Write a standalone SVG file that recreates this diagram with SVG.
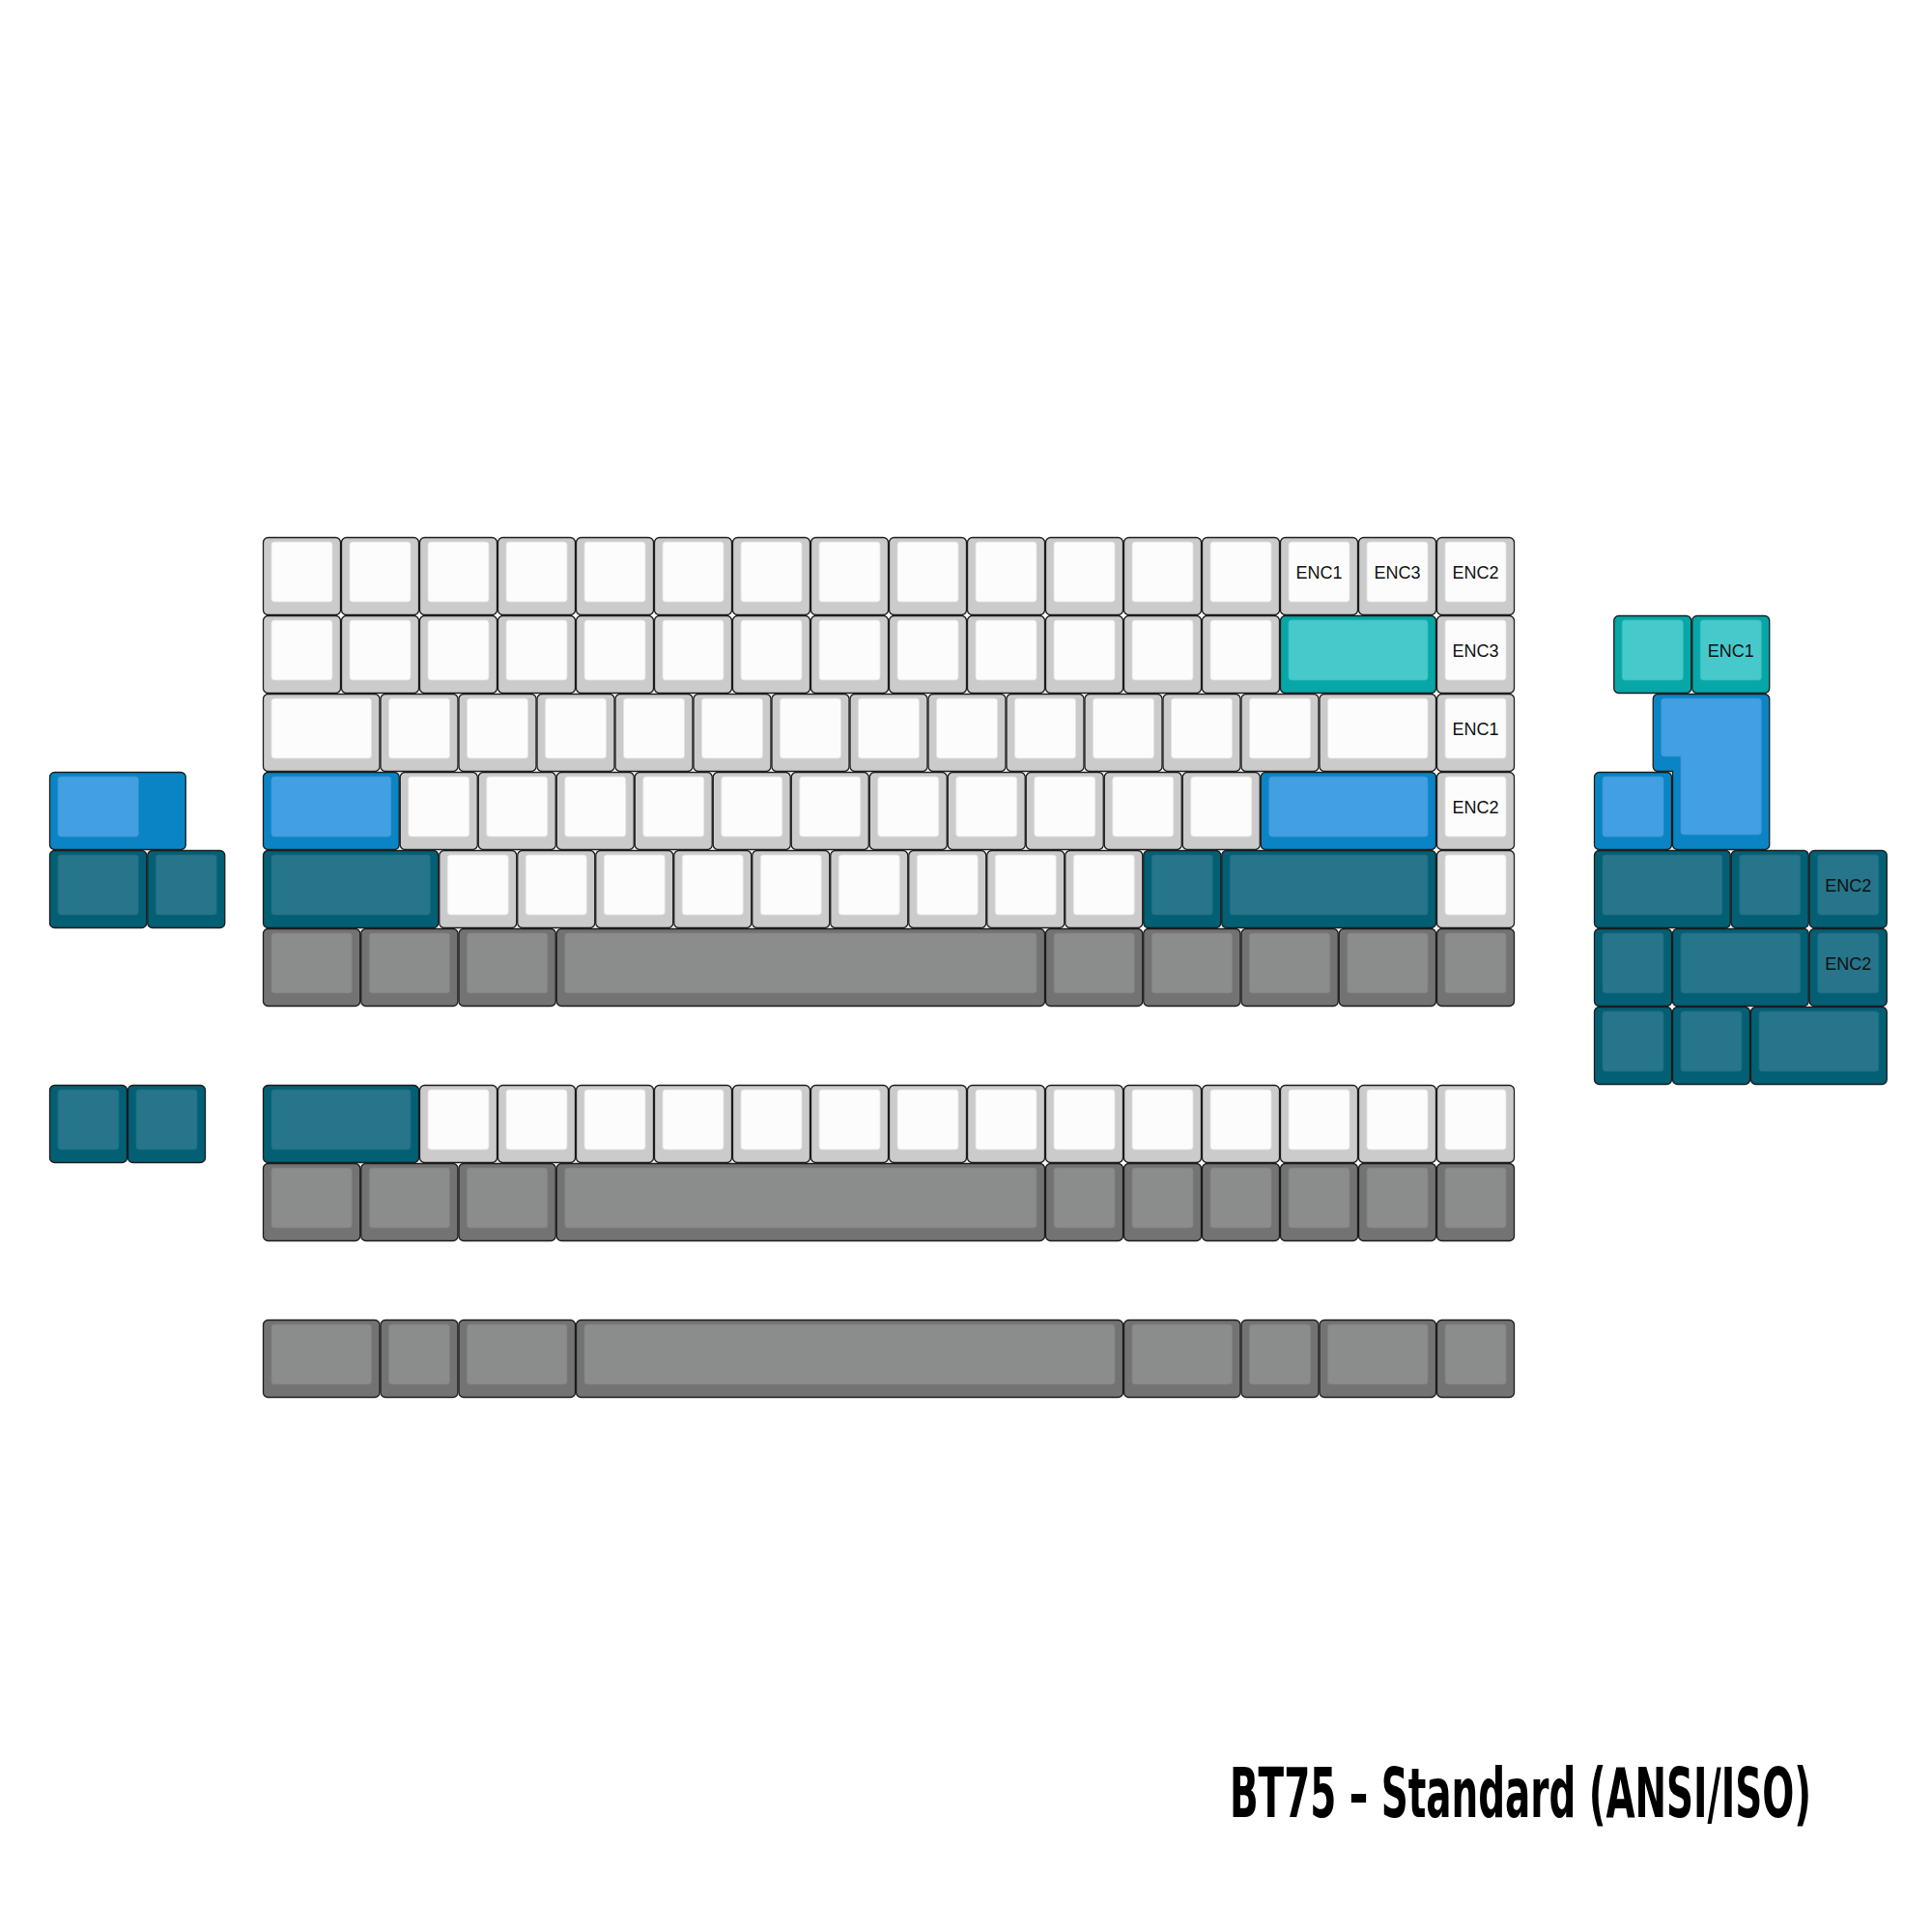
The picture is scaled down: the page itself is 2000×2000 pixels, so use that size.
<svg xmlns="http://www.w3.org/2000/svg" xmlns:xlink="http://www.w3.org/1999/xlink" width="2000" height="2000" viewBox="0 0 2000 2000">
<style>
.o{stroke:#1c1c1c;stroke-width:1.3;fill:var(--o)}
.i{stroke-width:0.8;fill:var(--i);stroke:var(--s)}
.w{--o:#cbcbcb;--i:#fcfcfc;--s:#e2e2e2}
.t{--o:#07a6a7;--i:#47c9cb;--s:#3cbcbe}
.b{--o:#0a84c4;--i:#42a0e2;--s:#3a94d4}
.d{--o:#035f74;--i:#26758a;--s:#206c80}
.g{--o:#737373;--i:#8b8d8c;--s:#808281}
.lbl{font-family:"Liberation Sans",Arial,sans-serif;font-size:18px;fill:#111;text-anchor:middle}
.title{font-family:"DejaVu Sans Condensed","DejaVu Sans",sans-serif;font-weight:bold;font-size:72px;fill:#000}
</style>
<defs>
<g id="u100"><rect class="o" x=".5" y=".5" width="80" height="80" rx="5"/><rect class="i" x="9" y="5" width="63" height="62" rx="3"/></g>
<g id="u125"><rect class="o" x=".5" y=".5" width="100.25" height="80" rx="5"/><rect class="i" x="9" y="5" width="83.25" height="62" rx="3"/></g>
<g id="u150"><rect class="o" x=".5" y=".5" width="120.5" height="80" rx="5"/><rect class="i" x="9" y="5" width="103.5" height="62" rx="3"/></g>
<g id="u175"><rect class="o" x=".5" y=".5" width="140.75" height="80" rx="5"/><rect class="i" x="9" y="5" width="123.75" height="62" rx="3"/></g>
<g id="u200"><rect class="o" x=".5" y=".5" width="161" height="80" rx="5"/><rect class="i" x="9" y="5" width="144" height="62" rx="3"/></g>
<g id="u225"><rect class="o" x=".5" y=".5" width="181.25" height="80" rx="5"/><rect class="i" x="9" y="5" width="164.25" height="62" rx="3"/></g>
<g id="u275"><rect class="o" x=".5" y=".5" width="221.75" height="80" rx="5"/><rect class="i" x="9" y="5" width="204.75" height="62" rx="3"/></g>
<g id="u625"><rect class="o" x=".5" y=".5" width="505.25" height="80" rx="5"/><rect class="i" x="9" y="5" width="488.25" height="62" rx="3"/></g>
<g id="u700"><rect class="o" x=".5" y=".5" width="566" height="80" rx="5"/><rect class="i" x="9" y="5" width="549" height="62" rx="3"/></g>
<g id="u175s"><rect class="o" x=".5" y=".5" width="140.75" height="80" rx="5"/><rect class="i" x="9" y="5" width="83.25" height="62" rx="3"/></g>
</defs>
<rect width="2000" height="2000" fill="#fff"/>

<g id="row0">
<g id="r0c0" class="w" transform="translate(272 556)"><use href="#u100"/></g>
<g id="r0c1" class="w" transform="translate(353 556)"><use href="#u100"/></g>
<g id="r0c2" class="w" transform="translate(434 556)"><use href="#u100"/></g>
<g id="r0c3" class="w" transform="translate(515 556)"><use href="#u100"/></g>
<g id="r0c4" class="w" transform="translate(596 556)"><use href="#u100"/></g>
<g id="r0c5" class="w" transform="translate(677 556)"><use href="#u100"/></g>
<g id="r0c6" class="w" transform="translate(758 556)"><use href="#u100"/></g>
<g id="r0c7" class="w" transform="translate(839 556)"><use href="#u100"/></g>
<g id="r0c8" class="w" transform="translate(920 556)"><use href="#u100"/></g>
<g id="r0c9" class="w" transform="translate(1001 556)"><use href="#u100"/></g>
<g id="r0c10" class="w" transform="translate(1082 556)"><use href="#u100"/></g>
<g id="r0c11" class="w" transform="translate(1163 556)"><use href="#u100"/></g>
<g id="r0c12" class="w" transform="translate(1244 556)"><use href="#u100"/></g>
<g id="r0c13" class="w" transform="translate(1325 556)"><use href="#u100"/><text class="lbl" x="40.5" y="42.5">ENC1</text></g>
<g id="r0c14" class="w" transform="translate(1406 556)"><use href="#u100"/><text class="lbl" x="40.5" y="42.5">ENC3</text></g>
<g id="r0c15" class="w" transform="translate(1487 556)"><use href="#u100"/><text class="lbl" x="40.5" y="42.5">ENC2</text></g>
</g>

<g id="row1">
<g id="r1c0" class="w" transform="translate(272 637)"><use href="#u100"/></g>
<g id="r1c1" class="w" transform="translate(353 637)"><use href="#u100"/></g>
<g id="r1c2" class="w" transform="translate(434 637)"><use href="#u100"/></g>
<g id="r1c3" class="w" transform="translate(515 637)"><use href="#u100"/></g>
<g id="r1c4" class="w" transform="translate(596 637)"><use href="#u100"/></g>
<g id="r1c5" class="w" transform="translate(677 637)"><use href="#u100"/></g>
<g id="r1c6" class="w" transform="translate(758 637)"><use href="#u100"/></g>
<g id="r1c7" class="w" transform="translate(839 637)"><use href="#u100"/></g>
<g id="r1c8" class="w" transform="translate(920 637)"><use href="#u100"/></g>
<g id="r1c9" class="w" transform="translate(1001 637)"><use href="#u100"/></g>
<g id="r1c10" class="w" transform="translate(1082 637)"><use href="#u100"/></g>
<g id="r1c11" class="w" transform="translate(1163 637)"><use href="#u100"/></g>
<g id="r1c12" class="w" transform="translate(1244 637)"><use href="#u100"/></g>
<g id="r1c13" class="t" transform="translate(1325 637)"><use href="#u200"/></g>
<g id="r1c14" class="w" transform="translate(1487 637)"><use href="#u100"/><text class="lbl" x="40.5" y="42.5">ENC3</text></g>
</g>

<g id="row2">
<g id="r2c0" class="w" transform="translate(272 718)"><use href="#u150"/></g>
<g id="r2c1" class="w" transform="translate(393.5 718)"><use href="#u100"/></g>
<g id="r2c2" class="w" transform="translate(474.5 718)"><use href="#u100"/></g>
<g id="r2c3" class="w" transform="translate(555.5 718)"><use href="#u100"/></g>
<g id="r2c4" class="w" transform="translate(636.5 718)"><use href="#u100"/></g>
<g id="r2c5" class="w" transform="translate(717.5 718)"><use href="#u100"/></g>
<g id="r2c6" class="w" transform="translate(798.5 718)"><use href="#u100"/></g>
<g id="r2c7" class="w" transform="translate(879.5 718)"><use href="#u100"/></g>
<g id="r2c8" class="w" transform="translate(960.5 718)"><use href="#u100"/></g>
<g id="r2c9" class="w" transform="translate(1041.5 718)"><use href="#u100"/></g>
<g id="r2c10" class="w" transform="translate(1122.5 718)"><use href="#u100"/></g>
<g id="r2c11" class="w" transform="translate(1203.5 718)"><use href="#u100"/></g>
<g id="r2c12" class="w" transform="translate(1284.5 718)"><use href="#u100"/></g>
<g id="r2c13" class="w" transform="translate(1365.5 718)"><use href="#u150"/></g>
<g id="r2c14" class="w" transform="translate(1487 718)"><use href="#u100"/><text class="lbl" x="40.5" y="42.5">ENC1</text></g>
</g>

<g id="row3">
<g id="r3c0" class="b" transform="translate(272 799)"><use href="#u175"/></g>
<g id="r3c1" class="w" transform="translate(413.75 799)"><use href="#u100"/></g>
<g id="r3c2" class="w" transform="translate(494.75 799)"><use href="#u100"/></g>
<g id="r3c3" class="w" transform="translate(575.75 799)"><use href="#u100"/></g>
<g id="r3c4" class="w" transform="translate(656.75 799)"><use href="#u100"/></g>
<g id="r3c5" class="w" transform="translate(737.75 799)"><use href="#u100"/></g>
<g id="r3c6" class="w" transform="translate(818.75 799)"><use href="#u100"/></g>
<g id="r3c7" class="w" transform="translate(899.75 799)"><use href="#u100"/></g>
<g id="r3c8" class="w" transform="translate(980.75 799)"><use href="#u100"/></g>
<g id="r3c9" class="w" transform="translate(1061.75 799)"><use href="#u100"/></g>
<g id="r3c10" class="w" transform="translate(1142.75 799)"><use href="#u100"/></g>
<g id="r3c11" class="w" transform="translate(1223.75 799)"><use href="#u100"/></g>
<g id="r3c12" class="b" transform="translate(1304.75 799)"><use href="#u225"/></g>
<g id="r3c13" class="w" transform="translate(1487 799)"><use href="#u100"/><text class="lbl" x="40.5" y="42.5">ENC2</text></g>
</g>

<g id="row4">
<g id="r4c0" class="d" transform="translate(272 880)"><use href="#u225"/></g>
<g id="r4c1" class="w" transform="translate(454.25 880)"><use href="#u100"/></g>
<g id="r4c2" class="w" transform="translate(535.25 880)"><use href="#u100"/></g>
<g id="r4c3" class="w" transform="translate(616.25 880)"><use href="#u100"/></g>
<g id="r4c4" class="w" transform="translate(697.25 880)"><use href="#u100"/></g>
<g id="r4c5" class="w" transform="translate(778.25 880)"><use href="#u100"/></g>
<g id="r4c6" class="w" transform="translate(859.25 880)"><use href="#u100"/></g>
<g id="r4c7" class="w" transform="translate(940.25 880)"><use href="#u100"/></g>
<g id="r4c8" class="w" transform="translate(1021.25 880)"><use href="#u100"/></g>
<g id="r4c9" class="w" transform="translate(1102.25 880)"><use href="#u100"/></g>
<g id="r4c10" class="d" transform="translate(1183.25 880)"><use href="#u100"/></g>
<g id="r4c11" class="d" transform="translate(1264.25 880)"><use href="#u275"/></g>
<g id="r4c12" class="w" transform="translate(1487 880)"><use href="#u100"/></g>
</g>

<g id="row5">
<g id="r5c0" class="g" transform="translate(272 961)"><use href="#u125"/></g>
<g id="r5c1" class="g" transform="translate(373.25 961)"><use href="#u125"/></g>
<g id="r5c2" class="g" transform="translate(474.5 961)"><use href="#u125"/></g>
<g id="r5c3" class="g" transform="translate(575.75 961)"><use href="#u625"/></g>
<g id="r5c4" class="g" transform="translate(1082 961)"><use href="#u125"/></g>
<g id="r5c5" class="g" transform="translate(1183.25 961)"><use href="#u125"/></g>
<g id="r5c6" class="g" transform="translate(1284.5 961)"><use href="#u125"/></g>
<g id="r5c7" class="g" transform="translate(1385.75 961)"><use href="#u125"/></g>
<g id="r5c8" class="g" transform="translate(1487 961)"><use href="#u100"/></g>
</g>

<g id="row6">
<g id="r6c0" class="d" transform="translate(272 1123)"><use href="#u200"/></g>
<g id="r6c1" class="w" transform="translate(434 1123)"><use href="#u100"/></g>
<g id="r6c2" class="w" transform="translate(515 1123)"><use href="#u100"/></g>
<g id="r6c3" class="w" transform="translate(596 1123)"><use href="#u100"/></g>
<g id="r6c4" class="w" transform="translate(677 1123)"><use href="#u100"/></g>
<g id="r6c5" class="w" transform="translate(758 1123)"><use href="#u100"/></g>
<g id="r6c6" class="w" transform="translate(839 1123)"><use href="#u100"/></g>
<g id="r6c7" class="w" transform="translate(920 1123)"><use href="#u100"/></g>
<g id="r6c8" class="w" transform="translate(1001 1123)"><use href="#u100"/></g>
<g id="r6c9" class="w" transform="translate(1082 1123)"><use href="#u100"/></g>
<g id="r6c10" class="w" transform="translate(1163 1123)"><use href="#u100"/></g>
<g id="r6c11" class="w" transform="translate(1244 1123)"><use href="#u100"/></g>
<g id="r6c12" class="w" transform="translate(1325 1123)"><use href="#u100"/></g>
<g id="r6c13" class="w" transform="translate(1406 1123)"><use href="#u100"/></g>
<g id="r6c14" class="w" transform="translate(1487 1123)"><use href="#u100"/></g>
</g>

<g id="row7">
<g id="r7c0" class="g" transform="translate(272 1204)"><use href="#u125"/></g>
<g id="r7c1" class="g" transform="translate(373.25 1204)"><use href="#u125"/></g>
<g id="r7c2" class="g" transform="translate(474.5 1204)"><use href="#u125"/></g>
<g id="r7c3" class="g" transform="translate(575.75 1204)"><use href="#u625"/></g>
<g id="r7c4" class="g" transform="translate(1082 1204)"><use href="#u100"/></g>
<g id="r7c5" class="g" transform="translate(1163 1204)"><use href="#u100"/></g>
<g id="r7c6" class="g" transform="translate(1244 1204)"><use href="#u100"/></g>
<g id="r7c7" class="g" transform="translate(1325 1204)"><use href="#u100"/></g>
<g id="r7c8" class="g" transform="translate(1406 1204)"><use href="#u100"/></g>
<g id="r7c9" class="g" transform="translate(1487 1204)"><use href="#u100"/></g>
</g>

<g id="row8">
<g id="r8c0" class="g" transform="translate(272 1366)"><use href="#u150"/></g>
<g id="r8c1" class="g" transform="translate(393.5 1366)"><use href="#u100"/></g>
<g id="r8c2" class="g" transform="translate(474.5 1366)"><use href="#u150"/></g>
<g id="r8c3" class="g" transform="translate(596 1366)"><use href="#u700"/></g>
<g id="r8c4" class="g" transform="translate(1163 1366)"><use href="#u150"/></g>
<g id="r8c5" class="g" transform="translate(1284.5 1366)"><use href="#u100"/></g>
<g id="r8c6" class="g" transform="translate(1365.5 1366)"><use href="#u150"/></g>
<g id="r8c7" class="g" transform="translate(1487 1366)"><use href="#u100"/></g>
</g>

<g id="left">
<g id="l0" class="b" transform="translate(51 799)"><use href="#u175s"/></g>
<g id="l1" class="d" transform="translate(51 880)"><use href="#u125"/></g>
<g id="l2" class="d" transform="translate(152.25 880)"><use href="#u100"/></g>
<g id="l3" class="d" transform="translate(51 1123)"><use href="#u100"/></g>
<g id="l4" class="d" transform="translate(132 1123)"><use href="#u100"/></g>
</g>

<g id="right">
<g id="rt0" class="t" transform="translate(1670.25 637)"><use href="#u100"/></g>
<g id="rt1" class="t" transform="translate(1751.25 637)"><use href="#u100"/><text class="lbl" x="40.5" y="42.5">ENC1</text></g>
<g id="rt-iso" class="b">
<path class="o" d="M1716.25,718.5 H1826.75 A5,5 0 0 1 1831.75,723.5 V874.5 A5,5 0 0 1 1826.75,879.5 H1736.5 A5,5 0 0 1 1731.5,874.5 V798.5 H1716.25 A5,5 0 0 1 1711.25,793.5 V723.5 A5,5 0 0 1 1716.25,718.5 Z"/>
<path class="i" d="M1722.75,723 H1820.25 A3,3 0 0 1 1823.25,726 V861 A3,3 0 0 1 1820.25,864 H1743 A3,3 0 0 1 1740,861 V783 H1722.75 A3,3 0 0 1 1719.75,780 V726 A3,3 0 0 1 1722.75,723 Z"/>
</g>
<g id="rt2" class="b" transform="translate(1650 799)"><use href="#u100"/></g>
<g id="rt3" class="d" transform="translate(1650 880)"><use href="#u175"/></g>
<g id="rt4" class="d" transform="translate(1791.75 880)"><use href="#u100"/></g>
<g id="rt5" class="d" transform="translate(1872.75 880)"><use href="#u100"/><text class="lbl" x="40.5" y="42.5">ENC2</text></g>
<g id="rt6" class="d" transform="translate(1650 961)"><use href="#u100"/></g>
<g id="rt7" class="d" transform="translate(1731 961)"><use href="#u175"/></g>
<g id="rt8" class="d" transform="translate(1872.75 961)"><use href="#u100"/><text class="lbl" x="40.5" y="42.5">ENC2</text></g>
<g id="rt9" class="d" transform="translate(1650 1042)"><use href="#u100"/></g>
<g id="rt10" class="d" transform="translate(1731 1042)"><use href="#u100"/></g>
<g id="rt11" class="d" transform="translate(1812 1042)"><use href="#u175"/></g>
</g>

<g id="connectors"></g>

<text class="title" transform="translate(1273 1881) scale(0.55 1)" x="0" y="0" textLength="1094.5" lengthAdjust="spacingAndGlyphs">BT75 – Standard (ANSI/ISO)</text>
</svg>
